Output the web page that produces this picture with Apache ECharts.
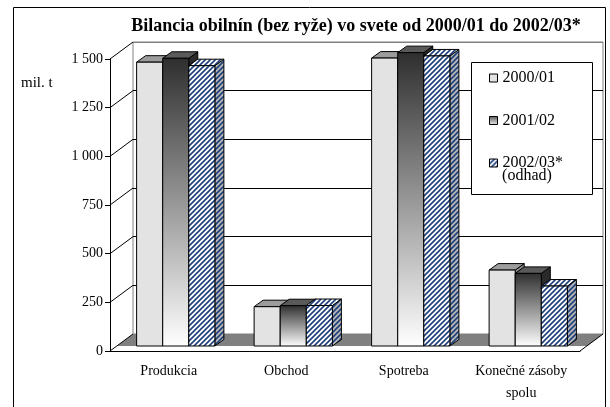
<!DOCTYPE html>
<html>
<head>
<meta charset="utf-8">
<script src="https://cdn.jsdelivr.net/npm/echarts@6/dist/echarts.min.js"></script>
<style>
html,body{margin:0;padding:0;background:#fff;}
#c{width:610px;height:407px;}
</style>
</head>
<body>
<div id="c"></div>
<script>
// ---- data ----
const categories = ['Produkcia', 'Obchod', 'Spotreba', 'Konečné zásoby\nspolu'];
const years = ['2000/01', '2001/02', '2002/03*'];
const values2000 = [1458, 202, 1479, 390];
const values2001 = [1478, 207, 1507, 373];
const values2002 = [1440, 208, 1490, 308];
const yTicks = [0, 250, 500, 750, 1000, 1250, 1500];
const yTickLabels = ['0', '250', '500', '750', '1 000', '1 250', '1 500'];
const titleText = 'Bilancia obilnín (bez ryže) vo svete od 2000/01 do 2002/03*';
const unitText = 'mil. t';
const noteText = '(odhad)';

// ---- styling ----
const FONT = "'Liberation Serif','Times New Roman',serif";
const WALL_DX = 23, WALL_DY = 17;
const BAR_DX = 7, BAR_DY = -5;
const TOP_DX = 9, TOP_DY = 6.5;
const BAR_FRAC = 0.222;

function stripes(bg) {
  const c = document.createElement('canvas');
  c.width = 5; c.height = 5;
  const g = c.getContext('2d');
  g.fillStyle = bg; g.fillRect(0, 0, 5, 5);
  g.strokeStyle = '#1F3F7A'; g.lineWidth = 1.6;
  g.beginPath();
  g.moveTo(-1, 6); g.lineTo(6, -1);
  g.moveTo(-6, 6); g.lineTo(1, -1);
  g.moveTo(4, 6); g.lineTo(11, -1);
  g.stroke();
  return { image: c, repeat: 'repeat' };
}

const styles = [
  { front: '#E3E3E3', top: '#9C9C9C', side: '#8A8A8A' },
  { front: { type: 'linear', x: 0, y: 0, x2: 0, y2: 1, colorStops: [{ offset: 0, color: '#2E2E2E' }, { offset: 1, color: '#FFFFFF' }] },
    top: '#5A5A5A', side: '#2A2A2A' },
  { front: stripes('#FFFFFF'), top: stripes('#FFFFFF'), side: stripes('#B8B8B8') }
];
const legendIcons = [
  '#E3E3E3',
  { type: 'linear', x: 0, y: 0, x2: 0, y2: 1, colorStops: [{ offset: 0, color: '#555' }, { offset: 1, color: '#eee' }] },
  stripes('#FFFFFF')
];

function barRenderer(k) {
  const st = styles[k];
  return function (params, api) {
    const ci = api.value(0), v = api.value(1);
    const p0 = api.coord([ci, 0]);
    const p1 = api.coord([ci, v]);
    const band = api.size([1, 0])[0];
    const w = band * BAR_FRAC;
    const x = p0[0] + (k - 1.5) * w + BAR_DX;
    const yb = p0[1] + BAR_DY, yt = p1[1] + BAR_DY;
    const ln = { stroke: '#000', lineWidth: 1 };
    return {
      type: 'group',
      children: [
        { type: 'polygon', shape: { points: [[x + w, yt], [x + w + TOP_DX, yt - TOP_DY], [x + w + TOP_DX, yb - TOP_DY], [x + w, yb]] },
          style: Object.assign({ fill: st.side }, ln) },
        { type: 'polygon', shape: { points: [[x, yt], [x + TOP_DX, yt - TOP_DY], [x + w + TOP_DX, yt - TOP_DY], [x + w, yt]] },
          style: Object.assign({ fill: st.top }, ln) },
        { type: 'rect', shape: { x: x, y: yt, width: w, height: yb - yt },
          style: Object.assign({ fill: st.front }, ln) }
      ]
    };
  };
}

function frameRenderer(params, api) {
  const cs = params.coordSys;
  const v = api.value(1);
  const p = api.coord([0, v]);
  const gx = cs.x;
  const children = [
    { type: 'line', shape: { x1: gx, y1: p[1], x2: gx + WALL_DX, y2: p[1] - WALL_DY }, style: { stroke: '#000', lineWidth: 1 } }
  ];
  if (params.dataIndex === 0) {
    const y0 = p[1];
    const gr = gx + cs.width;
    children.unshift({ type: 'polygon',
      shape: { points: [[gx + BAR_DX, y0 + BAR_DY], [gx + WALL_DX, y0 - WALL_DY], [gr + WALL_DX, y0 - WALL_DY], [gr + BAR_DX, y0 + BAR_DY]] },
      style: { fill: '#808080' } });
    children.push({ type: 'line', shape: { x1: gr, y1: y0, x2: gr + WALL_DX, y2: y0 - WALL_DY }, style: { stroke: '#000', lineWidth: 1 } });
  }
  return { type: 'group', children: children };
}

const allValues = [values2000, values2001, values2002];
const chart = echarts.init(document.getElementById('c'), null, { renderer: 'canvas' });

const option = {
  backgroundColor: '#fff',
  animation: false,
  title: {
    text: titleText, left: 351, top: 12, textAlign: 'center',
    textStyle: { fontFamily: FONT, fontSize: 18, fontWeight: 'bold', color: '#000' }
  },
  grid: [
    { left: 110, top: 59, width: 470, height: 292 },
    { left: 133, top: 42, width: 470, height: 292, show: true, backgroundColor: '#fff', borderColor: '#808080', borderWidth: 1 }
  ],
  xAxis: [
    { type: 'category', gridIndex: 0, data: categories,
      axisLine: { lineStyle: { color: '#000', width: 1 } },
      axisTick: { length: 5, lineStyle: { color: '#000' } },
      axisLabel: { interval: 0, margin: 9, fontFamily: FONT, fontSize: 14, color: '#000', lineHeight: 22 } },
    { type: 'category', gridIndex: 1, data: categories, show: false }
  ],
  yAxis: [
    { type: 'value', gridIndex: 0, min: 0, max: 1500, interval: 250,
      axisLine: { show: true, lineStyle: { color: '#000', width: 1 } },
      axisTick: { show: true, length: 5, lineStyle: { color: '#000' } },
      axisLabel: { margin: 7, fontFamily: FONT, fontSize: 14, color: '#000',
        formatter: function (v) { const i = yTicks.indexOf(v); return i >= 0 ? yTickLabels[i] : ''; } },
      splitLine: { show: false } },
    { type: 'value', gridIndex: 1, min: 0, max: 1500, interval: 250,
      axisLine: { show: false }, axisTick: { show: false }, axisLabel: { show: false },
      splitLine: { show: true, lineStyle: { color: ['#808080', '#000', '#000', '#000', '#000', '#000', '#808080'], width: 1 } } }
  ],
  legend: {
    orient: 'vertical', left: 489, top: 70, padding: 0, itemWidth: 8, itemHeight: 8, itemGap: 26.5,
    textStyle: { fontFamily: FONT, fontSize: 16, color: '#000' },
    data: years.map(function (y, i) {
      return { name: y, icon: 'rect', itemStyle: { color: legendIcons[i], borderColor: '#000', borderWidth: 1 } };
    })
  },
  graphic: [
    { type: 'rect', z: 3, shape: { x: 471.5, y: 62.5, width: 121, height: 132 }, style: { fill: '#fff', stroke: '#000', lineWidth: 1 } },
    { type: 'text', z: 5, style: { text: noteText, x: 527, y: 176, align: 'center', verticalAlign: 'middle', font: '16px ' + FONT, fill: '#000' } },
    { type: 'text', z: 5, style: { text: unitText, x: 21, y: 83, align: 'left', verticalAlign: 'middle', font: '15px ' + FONT, fill: '#000' } },
    { type: 'rect', z: 10, shape: { x: 13.5, y: 7.5, width: 592, height: 420 }, style: { fill: 'none', stroke: '#000', lineWidth: 1 } }
  ],
  series: [
    { type: 'custom', name: 'frame', xAxisIndex: 0, yAxisIndex: 0, z: 1, silent: true,
      renderItem: frameRenderer, data: yTicks.map(function (v) { return [0, v]; }), encode: { x: 0, y: 1 } }
  ].concat(years.map(function (y, k) {
    return {
      type: 'custom', name: y, xAxisIndex: 0, yAxisIndex: 0, z: 2,
      itemStyle: { color: legendIcons[k], borderColor: '#000', borderWidth: 1 },
      renderItem: barRenderer(k),
      data: allValues[k].map(function (v, i) { return [i, v]; }),
      encode: { x: 0, y: 1 }
    };
  }))
};
chart.setOption(option);
</script>
</body>
</html>
